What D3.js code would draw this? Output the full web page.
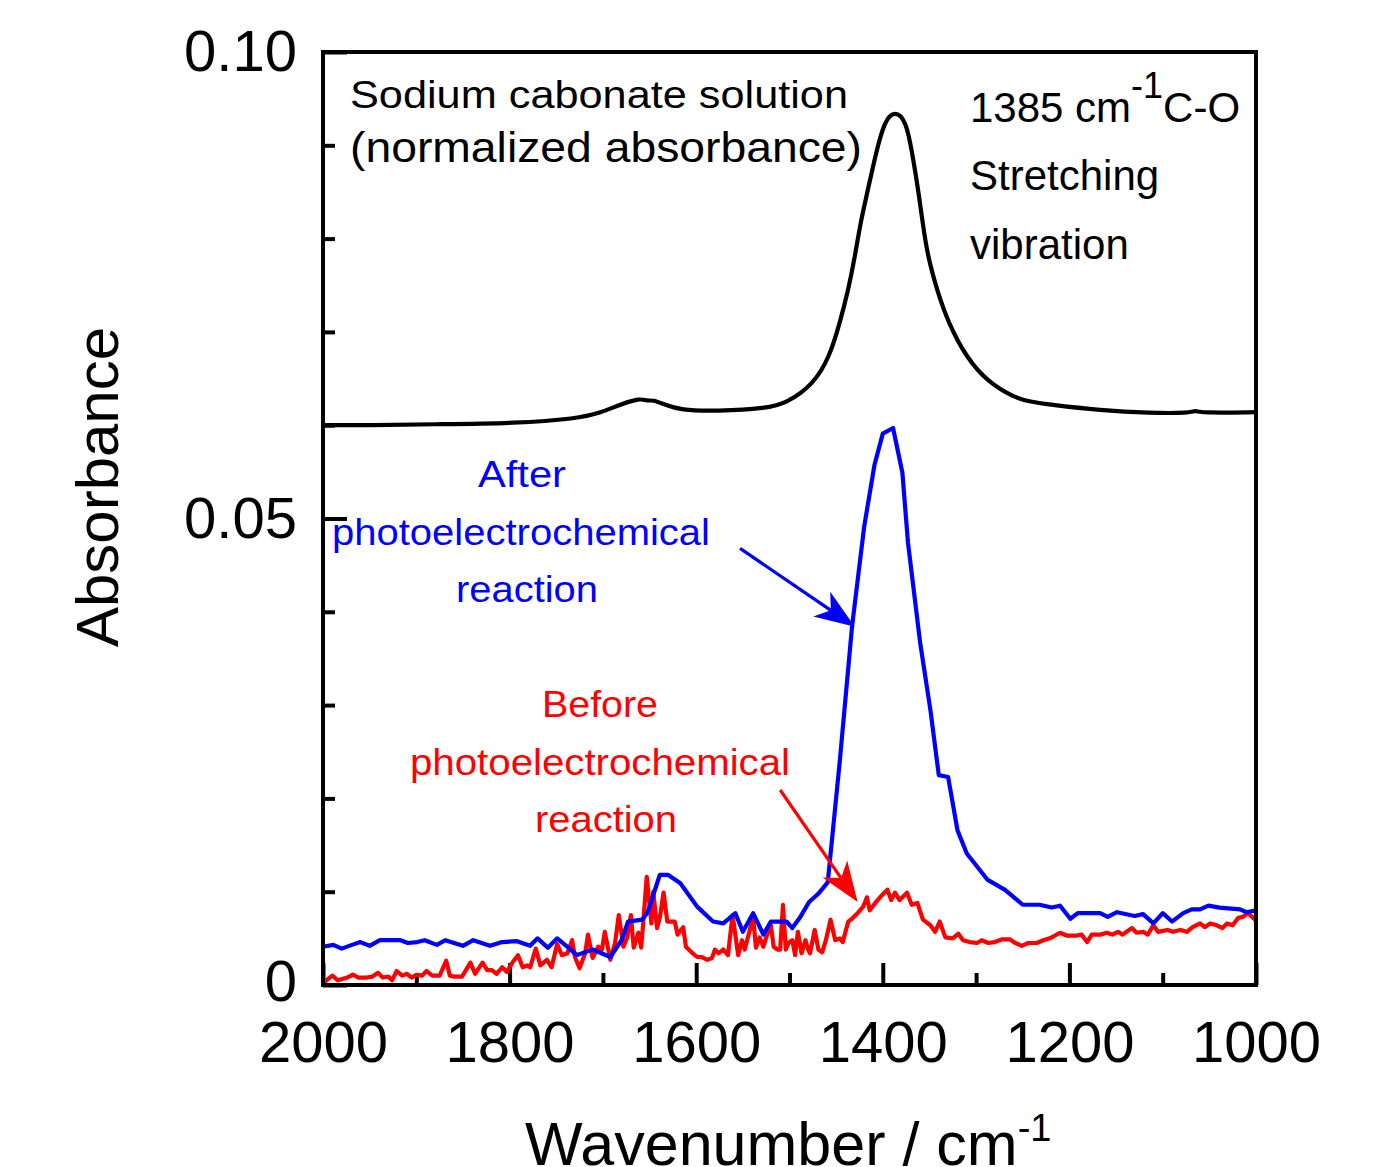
<!DOCTYPE html>
<html>
<head>
<meta charset="utf-8">
<script src="https://cdn.jsdelivr.net/npm/d3@7"></script>
<style>
  body { margin: 0; background: #fff; }
  svg { display: block; }
  text { font-family: "Liberation Sans", Arial, sans-serif; }
</style>
</head>
<body>
<svg id="chart"></svg>
<script>
// normalized sodium carbonate solution spectrum
const blackWave = [2000, 1950, 1882, 1792, 1728, 1703, 1682, 1660, 1653, 1646, 1636, 1617, 1578, 1524, 1503,
  1475, 1457, 1446, 1437, 1430, 1424, 1416, 1408, 1398, 1387, 1375, 1368, 1362, 1357, 1352, 1342, 1330,
  1310, 1288, 1260, 1242, 1221, 1167, 1114, 1071, 1065, 1058, 1000];
const blackAbs = [0.0600, 0.0600, 0.0601, 0.0602, 0.0607, 0.0613, 0.0622, 0.0629, 0.0626, 0.0627, 0.0623, 0.0616, 0.0615, 0.0618, 0.0624,
  0.0643, 0.0673, 0.0710, 0.0745, 0.0780, 0.0817, 0.0852, 0.0889, 0.0927, 0.0937, 0.0927, 0.0889, 0.0852, 0.0815, 0.0782, 0.0745, 0.0710,
  0.0672, 0.0647, 0.0630, 0.0625, 0.0622, 0.0616, 0.0613, 0.0613, 0.0616, 0.0613, 0.0614];

// after photoelectrochemical reaction
const blueWave = [2000, 1989, 1980, 1969, 1960, 1950, 1939, 1917, 1909, 1899, 1891, 1878, 1869, 1850, 1839, 1821,
  1808, 1792, 1778, 1770, 1759, 1749, 1737, 1728, 1711, 1692, 1680, 1673, 1658, 1652, 1639, 1630, 1617, 1599,
  1582, 1571, 1558, 1550, 1539, 1528, 1520, 1503, 1497, 1489, 1479, 1469, 1459, 1446, 1433, 1420, 1409, 1400,
  1389, 1379, 1373, 1360, 1349, 1340, 1330, 1320, 1310, 1288, 1269, 1250, 1232, 1219, 1210, 1199, 1191, 1167,
  1159, 1149, 1130, 1121, 1110, 1100, 1090, 1078, 1069, 1060, 1051, 1039, 1017, 1010, 1000];
const blueAbs = [0.0041, 0.0043, 0.0039, 0.0043, 0.0046, 0.0042, 0.0048, 0.0048, 0.0045, 0.0046, 0.0048, 0.0043, 0.0048, 0.0042, 0.0048, 0.0042,
  0.0046, 0.0047, 0.0042, 0.0050, 0.0040, 0.0050, 0.0040, 0.0032, 0.0038, 0.0030, 0.0048, 0.0068, 0.0070, 0.0078, 0.0118, 0.0118, 0.0109, 0.0084,
  0.0068, 0.0066, 0.0077, 0.0057, 0.0077, 0.0054, 0.0068, 0.0068, 0.0061, 0.0072, 0.0089, 0.0098, 0.0110, 0.0241, 0.0384, 0.0491, 0.0557, 0.0591,
  0.0597, 0.0549, 0.0474, 0.0367, 0.0295, 0.0225, 0.0223, 0.0166, 0.0141, 0.0113, 0.0102, 0.0086, 0.0086, 0.0083, 0.0085, 0.0071, 0.0077, 0.0077,
  0.0073, 0.0078, 0.0074, 0.0076, 0.0066, 0.0077, 0.0068, 0.0077, 0.0081, 0.0081, 0.0085, 0.0083, 0.0081, 0.0078, 0.0080];

// before photoelectrochemical reaction
const redWave = [2000, 1990, 1984, 1974, 1968, 1962, 1953, 1947, 1941, 1936, 1930, 1926, 1921, 1915, 1910, 1905,
  1899, 1894, 1889, 1883, 1875, 1868, 1864, 1859, 1851, 1842, 1837, 1829, 1824, 1819, 1814, 1808, 1803, 1797,
  1791, 1786, 1781, 1778, 1772, 1767, 1760, 1755, 1749, 1744, 1738, 1733, 1730, 1725, 1719, 1716, 1711, 1705,
  1701, 1698, 1692, 1687, 1683, 1678, 1674, 1670, 1667, 1662, 1659, 1657, 1653, 1648, 1646, 1642, 1639, 1635,
  1631, 1626, 1623, 1620, 1614, 1611, 1605, 1599, 1594, 1588, 1583, 1580, 1576, 1571, 1566, 1561, 1555, 1551,
  1548, 1543, 1539, 1536, 1532, 1528, 1524, 1520, 1517, 1513, 1510, 1507, 1504, 1501, 1497, 1494, 1491, 1487,
  1483, 1480, 1478, 1473, 1469, 1465, 1461, 1456, 1451, 1446, 1443, 1437, 1432, 1427, 1421, 1417, 1414, 1408,
  1403, 1395, 1391, 1387, 1382, 1374, 1369, 1363, 1357, 1349, 1344, 1339, 1333, 1325, 1319, 1314, 1307, 1299,
  1294, 1287, 1280, 1272, 1264, 1258, 1251, 1244, 1235, 1228, 1221, 1210, 1203, 1192, 1187, 1181, 1176, 1167,
  1160, 1154, 1148, 1143, 1133, 1128, 1121, 1116, 1110, 1105, 1095, 1089, 1081, 1074, 1068, 1060, 1055, 1049,
  1042, 1036, 1031, 1025, 1019, 1014, 1009, 1004, 1000];
const redAbs = [0.0002, 0.0010, 0.0005, 0.0008, 0.0011, 0.0008, 0.0008, 0.0009, 0.0013, 0.0008, 0.0009, 0.0005, 0.0015, 0.0010, 0.0012, 0.0008,
  0.0011, 0.0010, 0.0015, 0.0010, 0.0010, 0.0026, 0.0010, 0.0009, 0.0009, 0.0024, 0.0012, 0.0024, 0.0016, 0.0016, 0.0012, 0.0019, 0.0014, 0.0024,
  0.0032, 0.0019, 0.0021, 0.0019, 0.0039, 0.0021, 0.0027, 0.0019, 0.0044, 0.0032, 0.0034, 0.0048, 0.0030, 0.0018, 0.0034, 0.0054, 0.0029, 0.0041,
  0.0038, 0.0057, 0.0027, 0.0045, 0.0075, 0.0041, 0.0051, 0.0075, 0.0040, 0.0056, 0.0040, 0.0064, 0.0116, 0.0066, 0.0100, 0.0061, 0.0072, 0.0099,
  0.0068, 0.0068, 0.0068, 0.0054, 0.0062, 0.0041, 0.0035, 0.0030, 0.0030, 0.0027, 0.0029, 0.0038, 0.0034, 0.0038, 0.0032, 0.0075, 0.0032, 0.0048,
  0.0038, 0.0057, 0.0073, 0.0040, 0.0051, 0.0041, 0.0054, 0.0064, 0.0041, 0.0038, 0.0038, 0.0086, 0.0038, 0.0045, 0.0048, 0.0032, 0.0057, 0.0034,
  0.0048, 0.0038, 0.0034, 0.0059, 0.0038, 0.0035, 0.0048, 0.0070, 0.0048, 0.0050, 0.0046, 0.0068, 0.0072, 0.0077, 0.0084, 0.0094, 0.0080, 0.0088,
  0.0094, 0.0102, 0.0091, 0.0099, 0.0091, 0.0099, 0.0086, 0.0088, 0.0070, 0.0064, 0.0057, 0.0068, 0.0051, 0.0050, 0.0055, 0.0048, 0.0046, 0.0045,
  0.0048, 0.0045, 0.0046, 0.0049, 0.0049, 0.0045, 0.0042, 0.0045, 0.0045, 0.0048, 0.0050, 0.0056, 0.0053, 0.0053, 0.0054, 0.0046, 0.0054, 0.0054,
  0.0056, 0.0054, 0.0057, 0.0054, 0.0061, 0.0056, 0.0057, 0.0054, 0.0064, 0.0057, 0.0059, 0.0057, 0.0059, 0.0057, 0.0062, 0.0066, 0.0062, 0.0066,
  0.0064, 0.0061, 0.0066, 0.0064, 0.0072, 0.0073, 0.0077, 0.0073, 0.0069];

const xMajorTicks = [2000, 1800, 1600, 1400, 1200, 1000];
const xMinorTicks = [1900, 1700, 1500, 1300, 1100];
const yMajorTicks = [0, 0.05, 0.10];
const yMajorLabels = ['0', '0.05', '0.10'];
const yMinorTicks = [0.01, 0.02, 0.03, 0.04, 0.06, 0.07, 0.08, 0.09];

// arrows: [start, tip] in data units
const blueArrow = [[1553, 0.0468], [1430, 0.0384]];
const redArrow = [[1510, 0.0209], [1427, 0.0089]];

const width = 1393, height = 1167;
const margin = {left: 323, top: 52, right: 137, bottom: 182};
const plotW = width - margin.left - margin.right;
const plotH = height - margin.top - margin.bottom;

const svg = d3.select('#chart').attr('width', width).attr('height', height);
const g = svg.append('g').attr('transform', `translate(${margin.left},${margin.top})`);

const x = d3.scaleLinear().domain([2000, 1000]).range([0, plotW]);
const y = d3.scaleLinear().domain([0, 0.10]).range([plotH, 0]);

// ticks
function styleAxis(sel) {
  sel.select('.domain').remove();
  sel.selectAll('line').attr('stroke', '#000').attr('stroke-width', 4);
  sel.selectAll('text').attr('fill', '#000').attr('font-size', 58)
    .attr('font-family', '"Liberation Sans", Arial, sans-serif');
}

g.append('g').attr('transform', `translate(0,${plotH})`)
  .call(d3.axisBottom(x).tickValues(xMajorTicks).tickSize(-22).tickPadding(36).tickFormat(d3.format('d')))
  .call(styleAxis);
g.append('g').attr('transform', `translate(0,${plotH})`)
  .call(d3.axisBottom(x).tickValues(xMinorTicks).tickSize(-12).tickFormat(''))
  .call(styleAxis);
g.append('g')
  .call(d3.axisLeft(y).tickValues(yMajorTicks).tickSize(-24).tickPadding(26)
    .tickFormat((d, i) => yMajorLabels[i]))
  .call(styleAxis)
  .call(sel => sel.selectAll('text').attr('dy', (d) => d === 0 ? '0.26em' : '0.32em'));
g.append('g')
  .call(d3.axisLeft(y).tickValues(yMinorTicks).tickSize(-12).tickFormat(''))
  .call(styleAxis);

// curves
const series = [
  {wave: blackWave, abs: blackAbs, color: '#000', curve: d3.curveBasis},
  {wave: redWave, abs: redAbs, color: '#ff0000', curve: d3.curveLinear},
  {wave: blueWave, abs: blueAbs, color: '#0000ff', curve: d3.curveLinear}
];
series.forEach(s => {
  const pts = s.wave.map((w, i) => [w, s.abs[i]]);
  g.append('path')
    .datum(pts)
    .attr('fill', 'none')
    .attr('stroke', s.color)
    .attr('stroke-width', 4.2)
    .attr('stroke-linejoin', 'round')
    .attr('d', d3.line().x(d => x(d[0])).y(d => y(d[1])).curve(s.curve));
});

// frame
g.append('rect')
  .attr('x', 0).attr('y', 0).attr('width', plotW).attr('height', plotH)
  .attr('fill', 'none').attr('stroke', '#000').attr('stroke-width', 4);

// arrows
function drawArrow(arrow, color) {
  const x0 = x(arrow[0][0]), y0 = y(arrow[0][1]);
  const x1 = x(arrow[1][0]), y1 = y(arrow[1][1]);
  const len = Math.hypot(x1 - x0, y1 - y0);
  const ux = (x1 - x0) / len, uy = (y1 - y0) / len;
  const nx = -uy, ny = ux;
  const L = 40, W = 15, N = 29;
  const nxp = x1 - ux * N, nyp = y1 - uy * N;
  g.append('line')
    .attr('x1', x0).attr('y1', y0).attr('x2', nxp).attr('y2', nyp)
    .attr('stroke', color).attr('stroke-width', 3.2);
  g.append('path')
    .attr('d', `M${x1},${y1}L${x1 - ux * L + nx * W},${y1 - uy * L + ny * W}L${nxp},${nyp}L${x1 - ux * L - nx * W},${y1 - uy * L - ny * W}Z`)
    .attr('fill', color);
}
drawArrow(blueArrow, '#0000ff');
drawArrow(redArrow, '#ff0000');

// annotations
function label(txt, px, py, size, color, anchor, len) {
  const t = svg.append('text')
    .attr('x', px).attr('y', py)
    .attr('font-size', size).attr('fill', color)
    .attr('text-anchor', anchor)
    .text(txt);
  if (len) t.attr('textLength', len).attr('lengthAdjust', 'spacingAndGlyphs');
  return t;
}
label('Sodium cabonate solution', 350, 108, 38, '#000', 'start', 498);
label('(normalized absorbance)', 350, 162, 42, '#000', 'start', 512);

const co = svg.append('text').attr('x', 970).attr('y', 122).attr('font-size', 42).attr('fill', '#000');
co.append('tspan').text('1385 cm');
co.append('tspan').attr('font-size', 36).attr('dy', -24).text('-1');
co.append('tspan').attr('dy', 24).text('C-O');
label('Stretching', 970, 190, 42, '#000', 'start');
label('vibration', 970, 259, 42, '#000', 'start');

label('After', 522, 487, 36, '#0000ff', 'middle', 88);
label('photoelectrochemical', 521, 545, 36, '#0000ff', 'middle', 378);
label('reaction', 527, 602, 36, '#0000ff', 'middle', 142);

label('Before', 600, 717, 36, '#ff0000', 'middle', 116);
label('photoelectrochemical', 600, 775, 36, '#ff0000', 'middle', 380);
label('reaction', 606, 832, 36, '#ff0000', 'middle', 142);

// axis titles
svg.append('text')
  .attr('transform', 'translate(118,487) rotate(-90)')
  .attr('text-anchor', 'middle').attr('font-size', 60).attr('fill', '#000')
  .text('Absorbance');

const xt = svg.append('text').attr('x', 525).attr('y', 1165).attr('font-size', 61).attr('fill', '#000');
xt.append('tspan').text('Wavenumber / cm');
xt.append('tspan').attr('font-size', 38).attr('dy', -24).text('-1');
</script>
</body>
</html>
